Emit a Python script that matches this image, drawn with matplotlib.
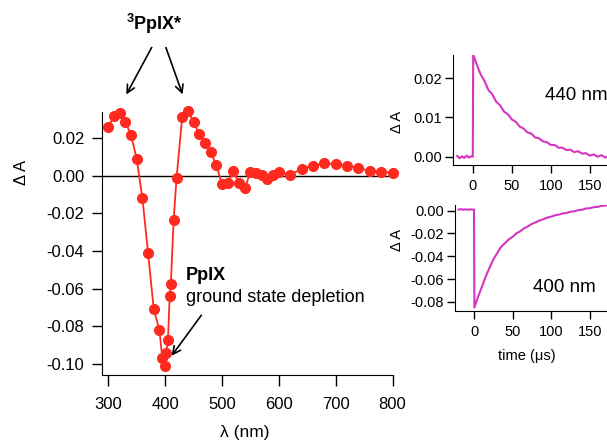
import matplotlib
matplotlib.use('Agg')
import matplotlib.pyplot as plt
from matplotlib.ticker import FormatStrFormatter

plt.rcParams['font.family'] = ['Liberation Sans', 'DejaVu Sans']
plt.rcParams['mathtext.fontset'] = 'custom'
plt.rcParams['mathtext.rm'] = 'Liberation Sans'
plt.rcParams['mathtext.bf'] = 'Liberation Sans:bold'

# transient absorption spectrum
wavelength = [300, 310, 320, 330, 340, 350, 360, 370, 380, 390, 395, 400, 402, 405, 408,
              410, 415, 420, 430, 440, 450, 460, 470, 480, 490, 500, 510, 520, 530, 540,
              550, 560, 570, 580, 590, 600, 620, 640, 660, 680, 700, 720, 740, 760, 780, 800]
delta_a = [0.0260, 0.0317, 0.0335, 0.0287, 0.0216, 0.0089, -0.0120, -0.0410, -0.0710,
           -0.0820, -0.0970, -0.1010, -0.0940, -0.0870, -0.0640, -0.0575, -0.0235, -0.0014,
           0.0310, 0.0344, 0.0287, 0.0220, 0.0172, 0.0128, 0.0057, -0.0046, -0.0037, 0.0027,
           -0.0040, -0.0067, 0.0018, 0.0016, 0.0002, -0.0019, 0.0004, 0.0021, 0.0005, 0.0037,
           0.0052, 0.0066, 0.0062, 0.0052, 0.0039, 0.0027, 0.0021, 0.0016]

# kinetic traces
time_us = [-20, -17, -14, -11, -8, -5, -2, 0, 0.5, 5, 10, 15, 20, 25, 30, 35, 40, 45, 50,
           55, 60, 65, 70, 75, 80, 85, 90, 95, 100, 105, 110, 115, 120, 125, 130, 135, 140,
           145, 150, 155, 160, 165, 170, 175, 180, 190]
trace_440 = [0.0002, -0.0004, 0.0001, -0.0003, 0.0003, -0.0002, 0.0001, 0.0000, 0.0260,
             0.0235, 0.0210, 0.0193, 0.0170, 0.0159, 0.0140, 0.0131, 0.0115, 0.0108, 0.0095,
             0.0089, 0.0077, 0.0072, 0.0062, 0.0059, 0.0049, 0.0047, 0.0039, 0.0037, 0.0030,
             0.0030, 0.0023, 0.0023, 0.0017, 0.0018, 0.0012, 0.0014, 0.0008, 0.0009, 0.0003,
             0.0006, 0.0000, 0.0004, -0.0002, 0.0002, 0.0000, 0.0001]
trace_400 = [0.0010, 0.0013, 0.0008, 0.0012, 0.0009, 0.0011, 0.0010, 0.0010, -0.0850,
             -0.0760, -0.0672, -0.0580, -0.0502, -0.0428, -0.0372, -0.0318, -0.0285, -0.0252,
             -0.0229, -0.0198, -0.0180, -0.0153, -0.0137, -0.0115, -0.0102, -0.0085, -0.0074,
             -0.0060, -0.0052, -0.0040, -0.0034, -0.0024, -0.0019, -0.0009, -0.0005, 0.0005,
             0.0009, 0.0019, 0.0022, 0.0031, 0.0034, 0.0043, 0.0044, 0.0051, 0.0050, 0.0054]

W, H = 607, 441
red = '#ff2a1f'
magenta = '#d535c0'


def fx(px):
    return px / W


def fy(py):
    return 1 - py / H


def style_axes(ax, size, length, pad):
    ax.spines['top'].set_visible(False)
    ax.spines['right'].set_visible(False)
    ax.tick_params(direction='out', length=length, width=1, labelsize=size, pad=pad)


fig = plt.figure(figsize=(W / 100, H / 100), dpi=100)

# main spectrum
ax = fig.add_axes([fx(101.7), fy(375), fx(392.5 - 101.7), (375 - 111.7) / H])
ax.axhline(0, color='black', lw=1)
ax.plot(wavelength, delta_a, color=red, lw=1.3, marker='o', ms=7, mec=red, mfc=red,
        clip_on=False, zorder=3)
ax.set_xlim(288.4, 800)
ax.set_ylim(-0.1058, 0.034)
ax.set_xticks([300, 400, 500, 600, 700, 800])
ax.set_yticks([-0.10, -0.08, -0.06, -0.04, -0.02, 0.00, 0.02])
ax.yaxis.set_major_formatter(FormatStrFormatter('%.2f'))
style_axes(ax, 12, 7.5, 5)
ax.tick_params(axis='x', length=8, pad=8)

fig.text(fx(22), fy(172), 'Δ A', rotation=90, ha='center', va='center', fontsize=12)
fig.text(fx(245), fy(433), 'λ (nm)', ha='center', va='center', fontsize=12.5)

# annotations
fig.text(fx(154), fy(24), r'$^{\mathbf{3}}$PpIX*', ha='center', va='center', fontsize=13,
         fontweight='bold')
arrow = dict(arrowstyle='->', color='black', lw=1.2, mutation_scale=14)
ax.annotate('', xy=(fx(125), fy(97)), xytext=(fx(153), fy(45)),
            xycoords='figure fraction', textcoords='figure fraction', arrowprops=arrow)
ax.annotate('', xy=(fx(183.5), fy(97)), xytext=(fx(165), fy(45)),
            xycoords='figure fraction', textcoords='figure fraction', arrowprops=arrow)
fig.text(fx(186), fy(275), 'PpIX', ha='left', va='center', fontsize=13, fontweight='bold')
fig.text(fx(186), fy(297), 'ground state depletion', ha='left', va='center', fontsize=13)
ax.annotate('', xy=(fx(170), fy(358)), xytext=(fx(203), fy(313)),
            xycoords='figure fraction', textcoords='figure fraction', arrowprops=arrow)

# inset 440 nm
ax1 = fig.add_axes([fx(453.3), fy(165), 225 * 0.78 / W, 110 / H])
ax1.plot(time_us, trace_440, color=magenta, lw=1.5)
ax1.set_xlim(-25, 200)
ax1.set_ylim(-0.0021, 0.0259)
ax1.set_xticks([0, 50, 100, 150])
ax1.set_yticks([0.00, 0.01, 0.02])
ax1.yaxis.set_major_formatter(FormatStrFormatter('%.2f'))
style_axes(ax1, 10.5, 6, 2)
ax1.tick_params(axis='x', pad=4)
fig.text(fx(545), fy(95), '440 nm', ha='left', va='center', fontsize=13.5)
fig.text(fx(397), fy(122), 'Δ A', rotation=90, ha='center', va='center', fontsize=10.5)

# inset 400 nm
ax2 = fig.add_axes([fx(455), fy(310.7), 224.6 * 0.773 / W, 105.7 / H])
ax2.plot(time_us, trace_400, color=magenta, lw=1.5)
ax2.set_xlim(-24.6, 200)
ax2.set_ylim(-0.0878, 0.005)
ax2.set_xticks([0, 50, 100, 150])
ax2.set_yticks([-0.08, -0.06, -0.04, -0.02, 0.00])
ax2.yaxis.set_major_formatter(FormatStrFormatter('%.2f'))
style_axes(ax2, 10.5, 6, 2)
ax2.tick_params(axis='x', pad=4)
fig.text(fx(533), fy(287), '400 nm', ha='left', va='center', fontsize=13.5)
fig.text(fx(397), fy(240), 'Δ A', rotation=90, ha='center', va='center', fontsize=10.5)
fig.text(fx(527), fy(356), 'time (μs)', ha='center', va='center', fontsize=10.5)

fig.savefig('out.png', dpi=100)
